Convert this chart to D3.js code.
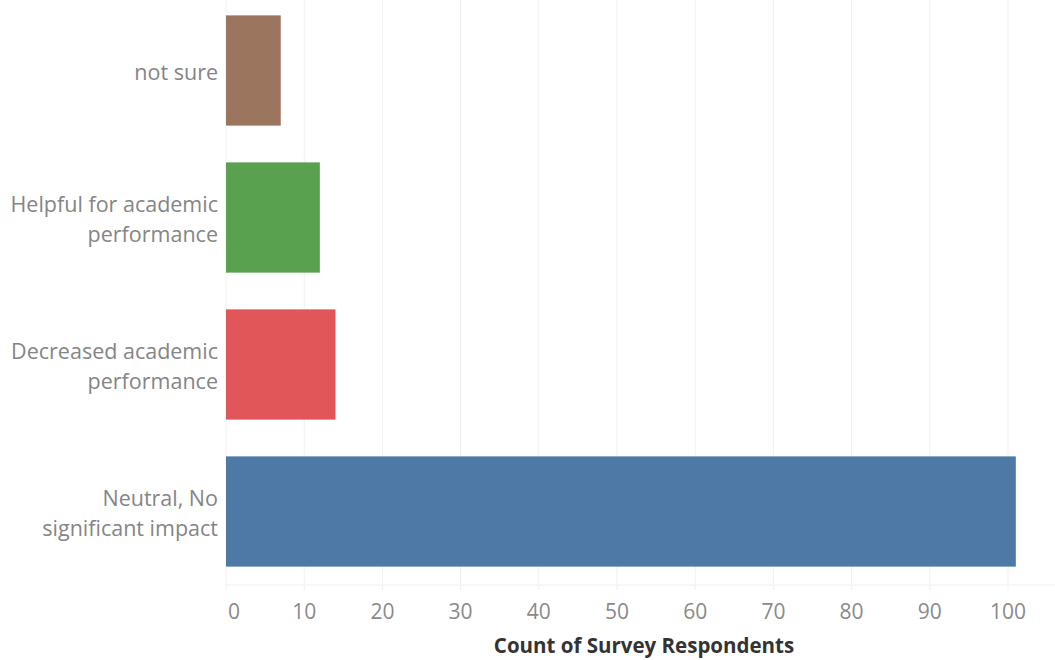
<!DOCTYPE html>
<html>
<head>
<meta charset="utf-8">
<script src="https://cdn.jsdelivr.net/npm/d3@7"></script>
<style>
  html, body { margin: 0; padding: 0; background: #fff; }
  #svg-container { width: 1055px; height: 660px; }
</style>
</head>
<body>
<div id="svg-container"></div>
<script>
// categories top to bottom
const categories = [
  'not sure',
  'Helpful for academic performance',
  'Decreased academic performance',
  'Neutral, No significant impact',
]
const categoryLines = [
  ['not sure'],
  ['Helpful for academic', 'performance'],
  ['Decreased academic', 'performance'],
  ['Neutral, No', 'significant impact'],
]
const counts = [7, 12, 14, 101]
const barColors = ['#9c755f', '#59a14f', '#e15759', '#4e79a7']
const xTicks = [0, 10, 20, 30, 40, 50, 60, 70, 80, 90, 100]
const xTitle = 'Count of Survey Respondents'

;(function () {
  const svgWidth = 1055
  const svgHeight = 660
  const marginLeft = 226
  const axisY = 585
  const labelFont = '"Open Sans", sans-serif'

  const svg = d3
    .select('#svg-container')
    .append('svg')
    .attr('width', svgWidth)
    .attr('height', svgHeight)

  const x = d3.scaleLinear().domain([0, 106]).range([marginLeft, marginLeft + 106 * 7.82])

  const y = d3
    .scaleBand()
    .domain(categories)
    .range([-3, axisY])
    .paddingInner(0.25)
    .paddingOuter(0.125)

  // gridlines
  svg
    .append('g')
    .selectAll('line')
    .data(xTicks)
    .join('line')
    .attr('x1', d => x(d))
    .attr('x2', d => x(d))
    .attr('y1', 0)
    .attr('y2', axisY + 5)
    .attr('stroke', '#f0f0f0')
    .attr('stroke-width', 1)

  svg
    .append('line')
    .attr('x1', marginLeft)
    .attr('x2', svgWidth)
    .attr('y1', axisY)
    .attr('y2', axisY)
    .attr('stroke', '#f0f0f0')

  // bars
  svg
    .append('g')
    .selectAll('rect')
    .data(categories)
    .join('rect')
    .attr('x', x(0))
    .attr('y', d => y(d))
    .attr('width', (d, i) => x(counts[i]) - x(0))
    .attr('height', y.bandwidth())
    .attr('fill', (d, i) => barColors[i])

  // category labels
  const lineH = 30
  svg
    .append('g')
    .selectAll('text')
    .data(categories)
    .join('text')
    .attr('text-anchor', 'end')
    .attr('font-family', labelFont)
    .attr('font-size', 21.5)
    .attr('fill', '#858585')
    .each(function (d, i) {
      const lines = categoryLines[i]
      const cy = y(d) + y.bandwidth() / 2 + 1.5
      const y0 = cy - ((lines.length - 1) * lineH) / 2
      d3.select(this)
        .selectAll('tspan')
        .data(lines)
        .join('tspan')
        .attr('x', 218)
        .attr('y', (l, j) => y0 + j * lineH)
        .attr('dy', '0.35em')
        .text(l => l)
    })

  // tick labels (first one is nudged right, like the original)
  svg
    .append('g')
    .selectAll('text')
    .data(xTicks)
    .join('text')
    .attr('x', d => (d === 0 ? x(d) + 2 : x(d)))
    .attr('y', 611.5)
    .attr('dy', '0.35em')
    .attr('text-anchor', d => (d === 0 ? 'start' : 'middle'))
    .attr('font-family', labelFont)
    .attr('font-size', 21)
    .attr('fill', '#8a8a8a')
    .text(d => d)

  svg
    .append('text')
    .attr('x', 644)
    .attr('y', 646)
    .attr('dy', '0.35em')
    .attr('text-anchor', 'middle')
    .attr('font-family', labelFont)
    .attr('font-size', 20.5)
    .attr('font-weight', 'bold')
    .attr('fill', '#333')
    .text(xTitle)
})()
</script>
</body>
</html>
